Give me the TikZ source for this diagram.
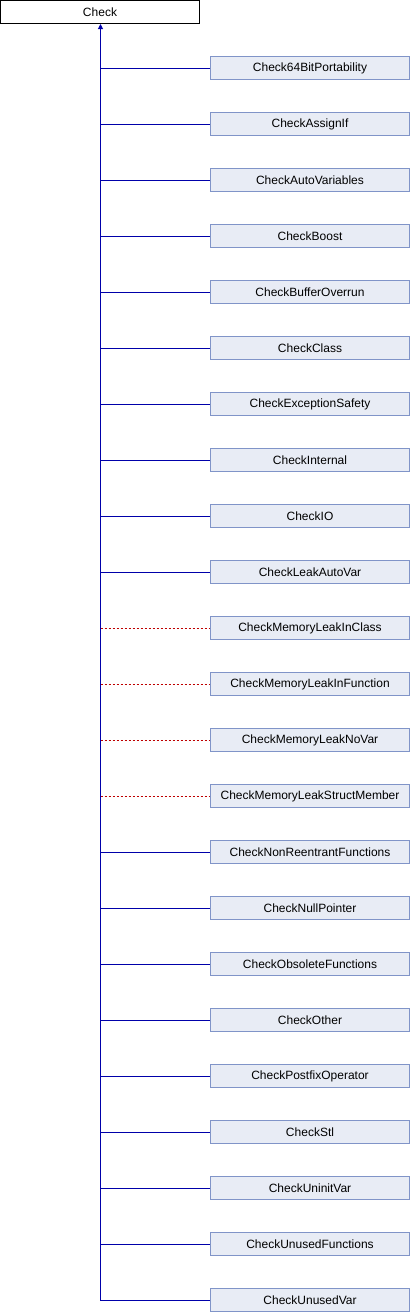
\documentclass[tikz,border=0pt]{standalone}
\usepackage{fontspec}
\setmainfont{Liberation Sans}
\usetikzlibrary{arrows.meta}
\definecolor{boxfill}{RGB}{232,236,245}
\definecolor{boxline}{RGB}{128,148,200}
\definecolor{linkblue}{RGB}{0,0,170}
\definecolor{linkred}{RGB}{190,0,0}
\begin{document}
\begin{tikzpicture}[x=1pt,y=-1pt,
  base/.style={draw=black,fill=white,line width=1pt,minimum width=199pt,minimum height=23pt,inner sep=0pt,font=\fontsize{12pt}{14pt}\selectfont},
  child/.style={draw=boxline,fill=boxfill,line width=1pt,minimum width=199pt,minimum height=23pt,inner sep=0pt,font=\fontsize{12pt}{14pt}\selectfont},
  pub/.style={draw=linkblue,line width=1pt},
  prot/.style={draw=linkred,line width=1pt,dash pattern=on 2pt off 2pt}]
\useasboundingbox (0,0) rectangle (410,1312);
\node[base] (check) at (100,12) {Check};
\foreach \name [count=\i from 0] in {Check64BitPortability,CheckAssignIf,CheckAutoVariables,CheckBoost,CheckBufferOverrun,CheckClass,CheckExceptionSafety,CheckInternal,CheckIO,CheckLeakAutoVar,CheckMemoryLeakInClass,CheckMemoryLeakInFunction,CheckMemoryLeakNoVar,CheckMemoryLeakStructMember,CheckNonReentrantFunctions,CheckNullPointer,CheckObsoleteFunctions,CheckOther,CheckPostfixOperator,CheckStl,CheckUninitVar,CheckUnusedFunctions,CheckUnusedVar}{
  \node[child] (c\i) at (310,{68+56*\i}) {\name};
  \coordinate (j\i) at (100.5,{68.5+56*\i});
}
\foreach \i in {0,...,9,14,15,...,22}{\draw[pub] (j\i) -- (j\i -| c\i.west);}
\foreach \i in {10,...,13}{\draw[prot] (j\i) -- (j\i -| c\i.west);}
\draw[pub,-{Triangle[width=5pt,length=5pt]}] (j22) -- (j22 |- check.south);
\end{tikzpicture}
\end{document}
